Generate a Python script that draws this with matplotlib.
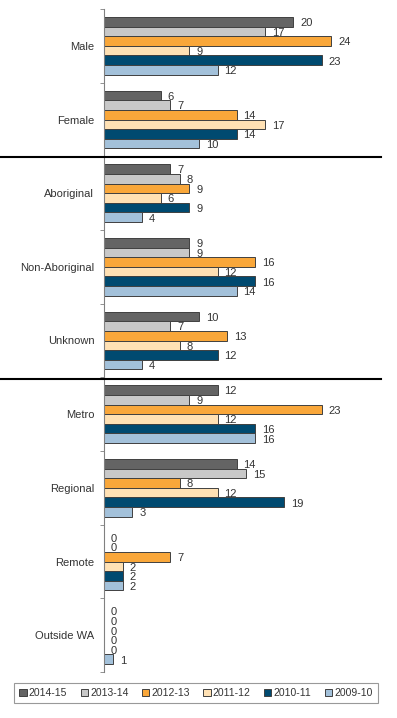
import matplotlib.pyplot as plt
from matplotlib.lines import Line2D
import numpy as np

plt.rcParams['font.family'] = ['Liberation Sans', 'DejaVu Sans']

categories = ['Male', 'Female', 'Aboriginal', 'Non-Aboriginal', 'Unknown',
              'Metro', 'Regional', 'Remote', 'Outside WA']
years = ['2014-15', '2013-14', '2012-13', '2011-12', '2010-11', '2009-10']
values = {
    '2014-15': [20, 6, 7, 9, 10, 12, 14, 0, 0],
    '2013-14': [17, 7, 8, 9, 7, 9, 15, 0, 0],
    '2012-13': [24, 14, 9, 16, 13, 23, 8, 7, 0],
    '2011-12': [9, 17, 6, 12, 8, 12, 12, 2, 0],
    '2010-11': [23, 14, 9, 16, 12, 16, 19, 2, 0],
    '2009-10': [12, 10, 4, 14, 4, 16, 3, 2, 1],
}
colors = ['#646464', '#c8c8c8', '#f9a73a', '#ffe1b4', '#004a70', '#a3c1da']

fig = plt.figure(figsize=(3.97, 7.18), dpi=100)
ax = fig.add_axes([104/397, 1 - 672/718, 284/397, 663/718])

y = np.arange(len(categories))
h = 0.131
for i, (yr, c) in enumerate(zip(years, colors)):
    pos = y - 2.5*h + i*h
    bars = ax.barh(pos, values[yr], height=h, color=c, edgecolor='#404040',
                   linewidth=0.7, label=yr)
    for b, v in zip(bars, values[yr]):
        ax.annotate(str(v), (v, b.get_y() + h/2), xytext=(5, -1),
                    textcoords='offset points', va='center', ha='left',
                    fontsize=8, color='#333333')

ax.set_xlim(0, 30)
ax.set_ylim(len(categories) - 0.5, -0.5)
ax.set_yticks(y)
ax.set_yticklabels(categories, fontsize=8, color='#333333')
ax.tick_params(axis='y', which='major', length=0, pad=7)
ax.set_yticks(np.arange(len(categories) + 1) - 0.5, minor=True)
ax.tick_params(axis='y', which='minor', length=3, color='#808080')
ax.set_xticks([])
for s in ['top', 'right', 'bottom']:
    ax.spines[s].set_visible(False)
ax.spines['left'].set_color('#808080')

for yp in [157, 379]:
    fig.add_artist(Line2D([0, 381/397], [1 - yp/718, 1 - yp/718],
                          transform=fig.transFigure, color='black', lw=1.5))

leg = fig.legend(loc='center', bbox_to_anchor=(196/397, 1 - 693/718), ncol=6,
                 fontsize=7.5, frameon=True, fancybox=False, edgecolor='#808080',
                 handlelength=0.7, handleheight=0.7, handletextpad=0.2,
                 columnspacing=1.3, borderpad=0.5)
leg.get_frame().set_linewidth(0.8)
for t in leg.get_texts():
    t.set_color('#333333')

fig.savefig('out.png', dpi=100)
